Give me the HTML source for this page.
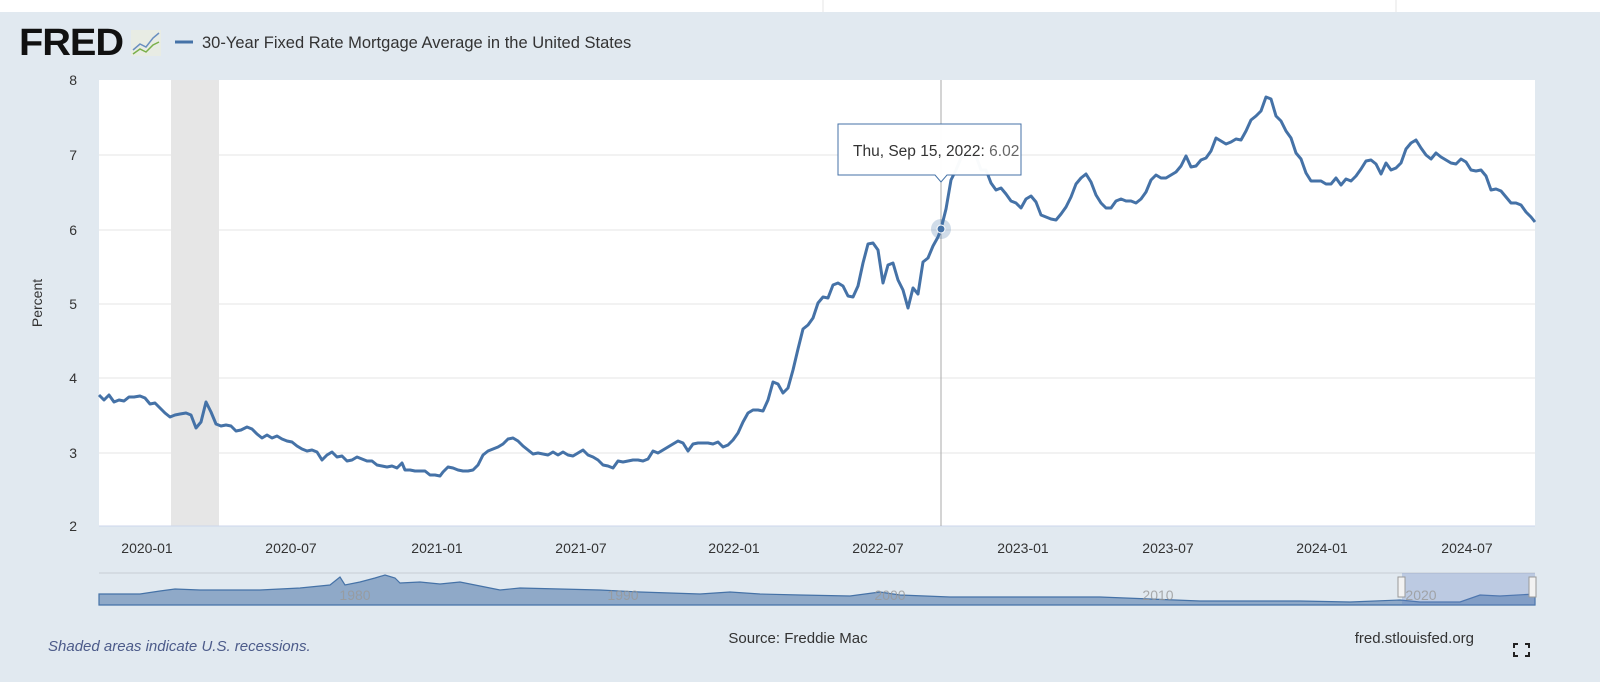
<!DOCTYPE html>
<html><head><meta charset="utf-8"><style>
body{margin:0;width:1600px;height:697px;background:#fff;font-family:"Liberation Sans",sans-serif;overflow:hidden}
</style></head><body>
<svg width="1600" height="697" xmlns="http://www.w3.org/2000/svg" style="position:absolute;left:0;top:0">
<rect x="0" y="12" width="1600" height="670" fill="#e1e9f0"/>
<line x1="823" y1="0" x2="823" y2="12" stroke="#e4e4e4"/>
<line x1="1396" y1="0" x2="1396" y2="12" stroke="#e4e4e4"/>
<text x="19" y="55" font-size="38" font-weight="bold" fill="#111" letter-spacing="-1" textLength="104" lengthAdjust="spacingAndGlyphs">FRED</text>
<rect x="131" y="30" width="30" height="26" fill="#e8ece4"/>
<polyline points="133,50 140,44 146,47 153,38 159,33" fill="none" stroke="#6a8fc0" stroke-width="1.5"/>
<polyline points="133,54 140,49 146,52 153,45 159,42" fill="none" stroke="#7ab04a" stroke-width="1.5"/>
<line x1="175" y1="42" x2="193" y2="42" stroke="#4572a7" stroke-width="3"/>
<text x="202" y="48" font-size="16.5" fill="#333">30-Year Fixed Rate Mortgage Average in the United States</text>
<rect x="99" y="80" width="1436" height="446" fill="#fff"/>
<rect x="171" y="80" width="48" height="446" fill="#e6e6e6"/>
<g stroke="#e6e6e6" stroke-width="1">
<line x1="99" y1="155" x2="1535" y2="155"/><line x1="99" y1="230" x2="1535" y2="230"/><line x1="99" y1="304" x2="1535" y2="304"/><line x1="99" y1="378" x2="1535" y2="378"/><line x1="99" y1="453" x2="1535" y2="453"/>
</g>
<line x1="99" y1="526" x2="1535" y2="526" stroke="#ccd6eb"/>
<g font-size="14" fill="#333" text-anchor="end">
<text x="77" y="85">8</text><text x="77" y="160">7</text><text x="77" y="235">6</text><text x="77" y="309">5</text><text x="77" y="383">4</text><text x="77" y="458">3</text><text x="77" y="531">2</text>
</g>
<text transform="translate(42,303) rotate(-90)" font-size="14" fill="#333" text-anchor="middle">Percent</text>
<g font-size="14" fill="#333" text-anchor="middle">
<text x="147" y="553">2020-01</text><text x="291" y="553">2020-07</text><text x="437" y="553">2021-01</text><text x="581" y="553">2021-07</text><text x="734" y="553">2022-01</text><text x="878" y="553">2022-07</text><text x="1023" y="553">2023-01</text><text x="1168" y="553">2023-07</text><text x="1322" y="553">2024-01</text><text x="1467" y="553">2024-07</text>
</g>
<line x1="941" y1="80" x2="941" y2="526" stroke="#aaa" stroke-width="1"/>
<polyline fill="none" stroke="#4572a7" stroke-width="3" stroke-linejoin="round" points="99,395 104,400 109,395 114,402 119,400 124,401 129,397 134,397 140,396 145,398 150,404 155,403 160,408 165,413 170,417 175,415 180,414 186,413 191,415 196,428 201,422 206,402 211,412 216,424 221,426 226,425 231,426 236,431 241,430 247,427 252,429 257,434 262,438 267,435 272,438 277,436 282,439 287,441 292,442 297,446 302,449 307,451 312,450 317,452 322,460 327,455 332,452 337,457 342,456 347,461 352,460 357,457 362,459 367,461 372,461 377,465 382,466 387,467 392,466 397,468 402,463 405,470 410,470 415,471 420,471 425,471 430,475 435,475 440,476 443,472 448,467 453,468 458,470 463,471 468,471 473,470 478,465 483,455 488,451 493,449 498,447 503,444 508,439 513,438 518,441 523,446 528,450 533,454 538,453 543,454 548,455 553,452 558,455 563,452 568,455 573,456 578,453 583,450 588,455 593,457 598,460 603,465 608,466 613,468 618,461 623,462 628,461 633,460 638,460 643,461 648,459 653,451 658,453 663,450 668,447 673,444 678,441 683,443 688,451 693,444 698,443 703,443 708,443 713,444 718,442 723,447 728,445 733,440 738,433 743,422 748,413 753,410 758,410 763,411 768,400 773,382 778,384 783,393 788,388 793,370 798,349 803,329 808,325 813,318 818,303 823,297 828,298 833,285 838,283 843,286 848,296 853,297 858,286 863,263 868,244 873,243 878,250 883,283 888,265 893,263 898,280 903,290 908,308 913,288 918,294 923,262 928,258 933,246 938,237 941,229 946,209 951,180 956,170 961,158 966,155 971,155 976,156 981,170 986,170 991,183 996,190 1001,188 1006,194 1011,201 1016,203 1021,208 1026,199 1031,196 1036,202 1041,215 1046,217 1051,219 1056,220 1061,214 1066,207 1071,197 1076,184 1081,178 1086,174 1091,182 1096,195 1101,203 1106,208 1111,208 1116,201 1121,199 1126,201 1131,201 1136,203 1141,199 1146,192 1151,180 1156,175 1161,178 1166,178 1171,175 1176,172 1181,166 1186,156 1191,167 1196,166 1201,160 1206,158 1211,151 1216,138 1221,141 1226,144 1231,142 1236,139 1241,140 1246,131 1251,120 1256,116 1261,111 1266,97 1271,99 1276,116 1281,121 1286,131 1291,138 1296,153 1301,159 1306,173 1311,181 1316,181 1321,181 1326,184 1331,184 1336,178 1341,185 1346,179 1351,181 1356,176 1361,169 1366,161 1371,160 1376,164 1381,174 1386,163 1391,170 1396,168 1401,163 1406,149 1411,143 1416,140 1421,148 1426,155 1431,159 1436,153 1441,157 1446,160 1451,163 1456,164 1461,159 1466,162 1471,170 1476,171 1481,170 1486,176 1491,190 1496,189 1501,191 1506,197 1511,203 1516,203 1521,205 1526,212 1531,217 1535,222"/>
<circle cx="941" cy="229" r="10" fill="#4572a7" fill-opacity="0.25"/>
<circle cx="941" cy="229" r="4" fill="#4572a7" stroke="#fff" stroke-width="1"/>
<path d="M838,124 H1021 V175 H947 L941,182 L935,175 H838 Z" fill="#fff" fill-opacity="0.97" stroke="#4572a7" stroke-width="1"/>
<text x="853" y="156" font-size="15.5" fill="#333">Thu, Sep 15, 2022: <tspan fill="#666">6.02</tspan></text>
<rect x="99" y="573" width="1436" height="32" fill="#e1e9f0"/>
<line x1="99" y1="573" x2="1535" y2="573" stroke="#c8cdd3"/>
<path d="M99,605 L99,594 L140,594 L160,591 L175,589 L200,590 L260,590 L300,588 L330,585 L340,577 L345,585 L360,582 L375,578 L385,575 L395,578 L400,583 L420,582 L440,584 L460,582 L480,586 L500,590 L520,588 L560,589 L600,590 L640,592 L700,594 L730,592 L760,594 L800,595 L850,596 L880,592 L900,595 L950,597 L1000,597 L1050,597 L1100,597 L1150,599 L1200,601 L1250,601 L1300,601 L1350,602 L1400,600 L1420,602 L1460,602 L1480,595 L1500,596 L1535,594 L1535,605 Z" fill="#8fa9c8" stroke="#4572a7" stroke-width="1.2"/>
<rect x="1402" y="573" width="133" height="32" fill="#6685c2" fill-opacity="0.3"/>
<rect x="1398" y="577" width="7" height="20" fill="#f2f2f2" stroke="#999"/>
<rect x="1529" y="577" width="7" height="20" fill="#f2f2f2" stroke="#999"/>
<g font-size="14" fill="#999" text-anchor="middle" fill-opacity="0.8">
<text x="355" y="600">1980</text><text x="623" y="600">1990</text><text x="890" y="600">2000</text><text x="1158" y="600">2010</text><text x="1421" y="600">2020</text>
</g>
<text x="48" y="651" font-size="15" font-style="italic" fill="#4c5b8a">Shaded areas indicate U.S. recessions.</text>
<text x="798" y="643" font-size="15" fill="#333" text-anchor="middle">Source: Freddie Mac</text>
<text x="1474" y="643" font-size="15" fill="#333" text-anchor="end">fred.stlouisfed.org</text>
<g stroke="#222" stroke-width="2" fill="none">
<path d="M1514,648 V644 H1518"/><path d="M1525,644 H1529 V648"/><path d="M1514,652 V656 H1518"/><path d="M1525,656 H1529 V652"/>
</g>
</svg>
</body></html>
